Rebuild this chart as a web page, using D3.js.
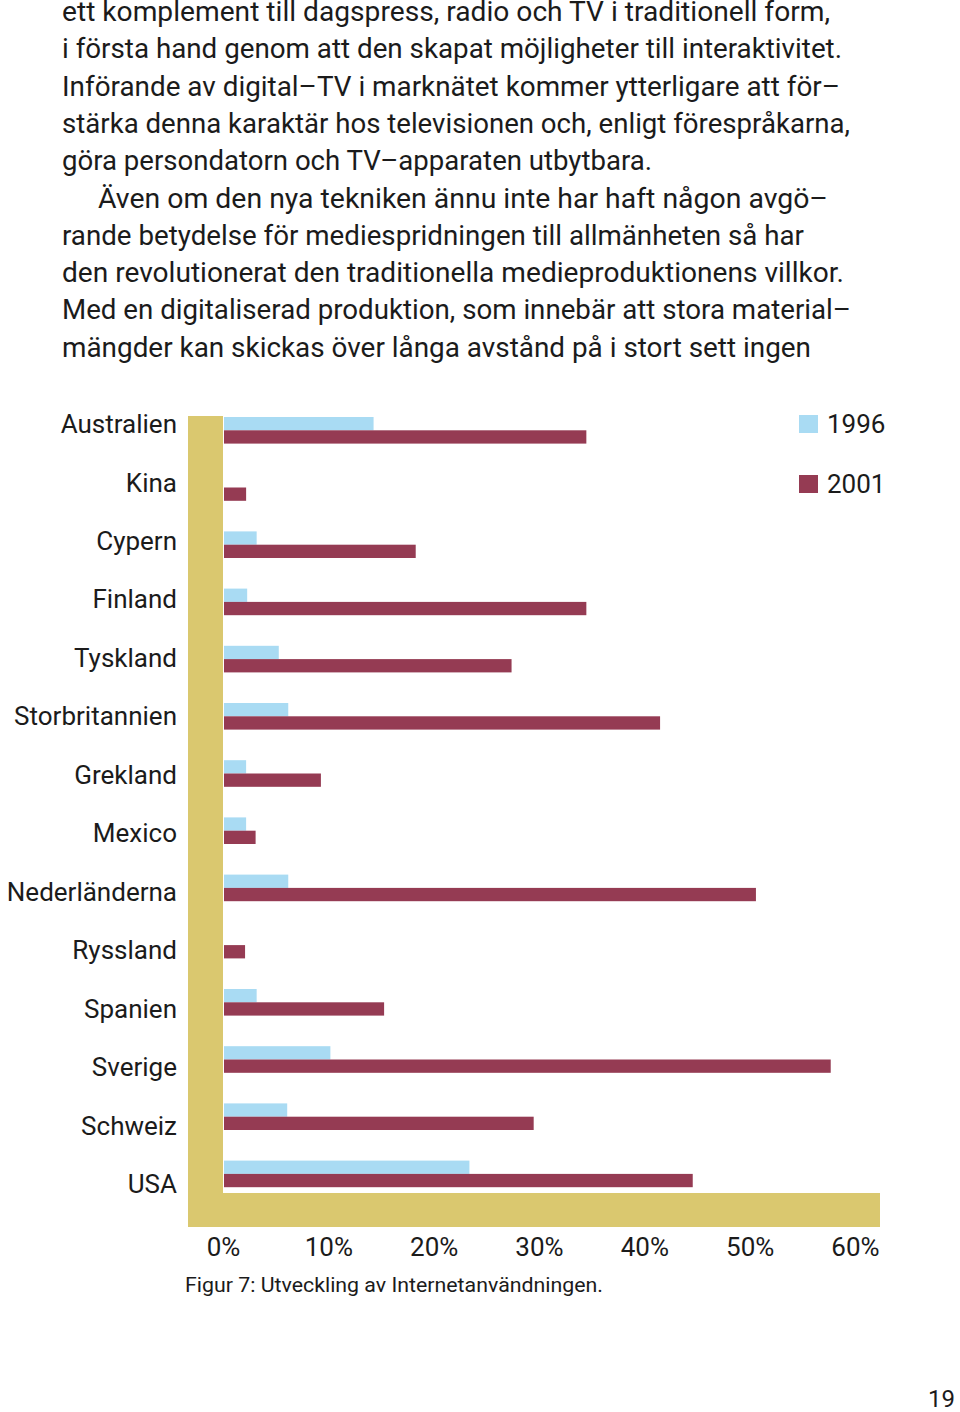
<!DOCTYPE html>
<html>
<head>
<meta charset="utf-8">
<title>Figur 7</title>
<script src="https://d3js.org/d3.v7.min.js"></script>
<style>
    body { margin: 0; background: white; }
    svg text { font-family: Roboto, "Noto Sans", sans-serif; fill: #1b1b1b; }
</style>
</head>
<body>
<svg id="page" width="960" height="1412"></svg>
<script>
// body text above the chart
let bodyLines = [
    "ett komplement till dagspress, radio och TV i traditionell form,",
    "i första hand genom att den skapat möjligheter till interaktivitet.",
    "Införande av digital–TV i marknätet kommer ytterligare att för–",
    "stärka denna karaktär hos televisionen och, enligt förespråkarna,",
    "göra persondatorn och TV–apparaten utbytbara.",
    "Även om den nya tekniken ännu inte har haft någon avgö–",
    "rande betydelse för mediespridningen till allmänheten så har",
    "den revolutionerat den traditionella medieproduktionens villkor.",
    "Med en digitaliserad produktion, som innebär att stora material–",
    "mängder kan skickas över långa avstånd på i stort sett ingen"
]
let lineEnds = [830, 842, 840, 850, 652, 828, 804, 844, 851, 811]

// chart data (percent)
let countries = ["Australien", "Kina", "Cypern", "Finland", "Tyskland", "Storbritannien",
    "Grekland", "Mexico", "Nederländerna", "Ryssland", "Spanien", "Sverige", "Schweiz", "USA"]
let years = ["1996", "2001"]
let values1996 = [14.2, 0, 3.1, 2.2, 5.2, 6.1, 2.1, 2.1, 6.1, 0, 3.1, 10.1, 6.0, 23.3]
let values2001 = [34.4, 2.1, 18.2, 34.4, 27.3, 41.4, 9.2, 3.0, 50.5, 2.0, 15.2, 57.6, 29.4, 44.5]
let tickValues = [0, 10, 20, 30, 40, 50, 60]
let caption = "Figur 7: Utveckling av Internetanvändningen."
let pageNumber = "19"

let colors = {"1996": "#a9dbf3", "2001": "#953b53"}
let frameColor = "#dac86f"

let svg = d3.select("#page")

// paragraph text
let body = svg.append("g").attr("class", "body")
bodyLines.forEach(function (line, i) {
    let x0 = (i === 5) ? 98 : 62
    let t = body.append("text")
        .attr("x", x0)
        .attr("y", 21 + i * 37.3)
        .style("font-size", "27px")
        .text(line)
    let target = lineEnds[i] - x0
    t.attr("textLength", target).attr("lengthAdjust", "spacingAndGlyphs")
})

// scales
let x = d3.scaleLinear().domain([0, 60]).range([223, 855])
let y = d3.scaleBand().domain(countries).range([417, 417 + 14 * 57.2])
let ySub = d3.scaleBand().domain(years).range([0, 26.6])
let yLabel = d3.scalePoint().domain(countries).range([424, 1184])

// yellow frame
svg.append("rect")
    .attr("x", x(0) - 35).attr("y", 416)
    .attr("width", 35).attr("height", 1227 - 416)
    .attr("fill", frameColor)
svg.append("rect")
    .attr("x", x(0) - 35).attr("y", 1193)
    .attr("width", 880 - (x(0) - 35)).attr("height", 34)
    .attr("fill", frameColor)

// bars
let rows = countries.map(function (c, i) {
    return {country: c, "1996": values1996[i], "2001": values2001[i]}
})
let groups = svg.append("g").selectAll("g")
    .data(rows)
    .enter()
    .append("g")
    .attr("transform", d => "translate(0," + y(d.country) + ")")
groups.selectAll("rect")
    .data(d => years.map(k => ({year: k, value: d[k]})).filter(e => e.value > 0))
    .enter()
    .append("rect")
    .attr("x", x(0) + 1)
    .attr("y", d => ySub(d.year))
    .attr("width", d => x(d.value) - x(0))
    .attr("height", ySub.bandwidth())
    .attr("fill", d => colors[d.year])

// country labels
svg.append("g").selectAll("text")
    .data(countries)
    .enter()
    .append("text")
    .attr("x", 177)
    .attr("y", d => yLabel(d))
    .attr("dy", "0.35em")
    .attr("text-anchor", "end")
    .style("font-size", "26px")
    .text(d => d)

// x axis labels
let xAxis = d3.axisBottom(x)
    .tickValues(tickValues)
    .tickSize(0)
    .tickPadding(0)
    .tickFormat(d => d + "%")
let axisG = svg.append("g")
    .attr("transform", "translate(0,1238)")
    .call(xAxis)
axisG.select(".domain").remove()
axisG.selectAll("text")
    .style("font-family", "Roboto, sans-serif")
    .style("font-size", "26px")
    .attr("fill", "#1b1b1b")

// legend
let legend = svg.append("g").selectAll("g")
    .data(years)
    .enter()
    .append("g")
    .attr("transform", (d, i) => "translate(799," + (415 + i * 60) + ")")
legend.append("rect")
    .attr("width", 19).attr("height", 18)
    .attr("fill", d => colors[d])
legend.append("text")
    .attr("x", 28).attr("y", 9)
    .attr("dy", "0.35em")
    .style("font-size", "26px")
    .text(d => d)

// caption and page number
svg.append("text")
    .attr("x", 185).attr("y", 1292)
    .style("font-size", "20px")
    .attr("textLength", 418).attr("lengthAdjust", "spacingAndGlyphs")
    .text(caption)
svg.append("text")
    .attr("x", 955).attr("y", 1407)
    .attr("text-anchor", "end")
    .style("font-size", "24px")
    .text(pageNumber)
</script>
</body>
</html>
